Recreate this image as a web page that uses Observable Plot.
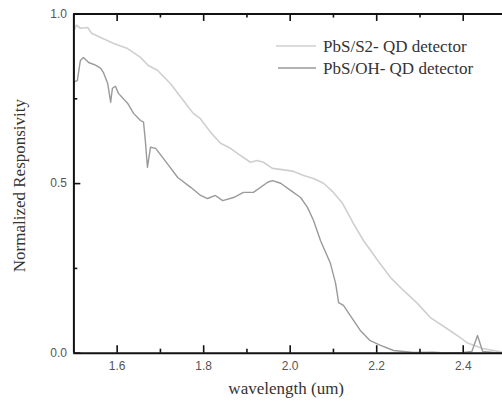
<!DOCTYPE html>
<html><head><meta charset="utf-8">
<script src="https://cdn.jsdelivr.net/npm/d3@7"></script>
<script src="https://cdn.jsdelivr.net/npm/@observablehq/plot@0.6"></script>
<style>body{margin:0;background:#fff}</style>
</head><body><div id="chart"></div>
<script>
const s2Wavelength = [1.501,1.506,1.515,1.532,1.541,1.562,1.592,1.624,1.654,1.672,1.693,1.723,1.753,1.776,1.792,1.816,1.839,1.862,1.878,1.908,1.924,1.938,1.959,1.994,2.008,2.031,2.054,2.077,2.100,2.121,2.146,2.169,2.202,2.232,2.262,2.294,2.324,2.363,2.394,2.410,2.445,2.486,2.5];
const s2Resp = [0.955,0.967,0.958,0.960,0.943,0.931,0.913,0.898,0.872,0.848,0.834,0.795,0.745,0.707,0.692,0.651,0.619,0.604,0.589,0.563,0.568,0.563,0.545,0.539,0.536,0.524,0.515,0.501,0.474,0.442,0.383,0.333,0.274,0.223,0.185,0.147,0.105,0.072,0.045,0.030,0.014,0.004,0.002];
const ohWavelength = [1.501,1.508,1.515,1.522,1.534,1.550,1.562,1.568,1.578,1.585,1.589,1.596,1.603,1.624,1.638,1.654,1.661,1.665,1.670,1.677,1.689,1.716,1.740,1.770,1.793,1.809,1.827,1.844,1.869,1.892,1.915,1.948,1.959,1.978,2.001,2.024,2.040,2.054,2.070,2.093,2.105,2.112,2.123,2.139,2.162,2.185,2.209,2.239,2.285,2.33,2.36,2.40,2.42,2.433,2.445,2.47,2.5];
const ohResp = [0.80,0.804,0.863,0.872,0.857,0.849,0.840,0.828,0.796,0.740,0.781,0.787,0.766,0.737,0.707,0.686,0.681,0.628,0.548,0.607,0.604,0.559,0.518,0.489,0.465,0.456,0.465,0.450,0.459,0.474,0.474,0.504,0.509,0.501,0.480,0.459,0.430,0.391,0.332,0.265,0.206,0.149,0.141,0.111,0.067,0.037,0.023,0.008,0.002,0.003,0.001,0.002,0.005,0.052,0.005,0.002,0.001];
const xMajor = [1.6,1.8,2.0,2.2,2.4];
const xMinor = [1.7,1.9,2.1,2.3];
const yMajor = [0.0,0.5,1.0];
const yMinor = [0.25,0.75];
const seriesNames = ["PbS/S2- QD detector","PbS/OH- QD detector"];
const seriesColors = ["#cfcfcf","#9a9a9a"];

const s2 = s2Wavelength.map((x,i)=>({x, y:s2Resp[i]}));
const oh = ohWavelength.map((x,i)=>({x, y:ohResp[i]}));

const W = 502, H = 403;
const serif = "Liberation Serif, Times New Roman, serif";
const ink = "#111";
try {
const chart = Plot.plot({
  width: W, height: H,
  marginLeft: 73.4, marginRight: 0, marginTop: 13.5, marginBottom: 50.3,
  x: {type:"linear", domain:[1.5, 2.4908]},
  y: {type:"linear", domain:[0,1]},
  style: {fontFamily:"Liberation Sans, Arial, sans-serif", background:"#fff"},
  marks: [
    Plot.line(s2, {x:"x", y:"y", stroke:seriesColors[0], strokeWidth:1.6, clip:true}),
    Plot.line(oh, {x:"x", y:"y", stroke:seriesColors[1], strokeWidth:1.4, clip:true}),
    Plot.ruleX([1.5], {stroke:ink, strokeWidth:2}),
    Plot.ruleY([0, 1], {stroke:ink, strokeWidth:2}),
    Plot.ruleX(xMajor, {x:d=>d, y1:0, y2:0.022, stroke:ink, strokeWidth:1.6}),
    Plot.ruleX(xMinor, {x:d=>d, y1:0, y2:0.012, stroke:ink, strokeWidth:1.6}),
    Plot.ruleX(xMajor, {x:d=>d, y1:1, y2:0.978, stroke:ink, strokeWidth:1.6}),
    Plot.ruleX(xMinor, {x:d=>d, y1:1, y2:0.988, stroke:ink, strokeWidth:1.6}),
    Plot.ruleY(yMajor, {y:d=>d, x1:1.5, x2:1.516, stroke:ink, strokeWidth:1.6}),
    Plot.ruleY(yMinor, {y:d=>d, x1:1.5, x2:1.509, stroke:ink, strokeWidth:1.6}),
    Plot.axisX({ticks:xMajor, tickSize:0, tickPadding:8, tickFormat:d3.format(".1f"), fontSize:12, fill:"#555", label:null}),
    Plot.axisY({ticks:yMajor, tickSize:0, tickPadding:7, tickFormat:d3.format(".1f"), fontSize:12, fill:"#555", label:null}),
    Plot.text(["Normalized Responsivity"], {frameAnchor:"left", textAnchor:"middle", dx:-54, dy:2, rotate:-90, fontFamily:serif, fontSize:17, fill:"#333"}),
    Plot.text(["wavelength (um)"], {frameAnchor:"bottom", textAnchor:"middle", dx:-2, dy:41, fontFamily:serif, fontSize:17, fill:"#333"})
  ]
});
document.getElementById("chart").appendChild(chart);

// legend
const svg = d3.select(chart);
const lg = svg.append("g").attr("font-family",serif).attr("font-size",17).attr("fill","#333").attr("text-anchor","start");
seriesNames.forEach((name,i)=>{
  const yy = 46 + i*22;
  lg.append("line").attr("x1",276+i*2).attr("x2",316).attr("y1",yy).attr("y2",yy).attr("stroke",seriesColors[i]).attr("stroke-width",1.5);
  lg.append("text").attr("x",323).attr("y",yy).attr("dy","0.35em").text(name);
});
} catch(e) { document.body.append(String(e)); }
</script>
</body></html>
